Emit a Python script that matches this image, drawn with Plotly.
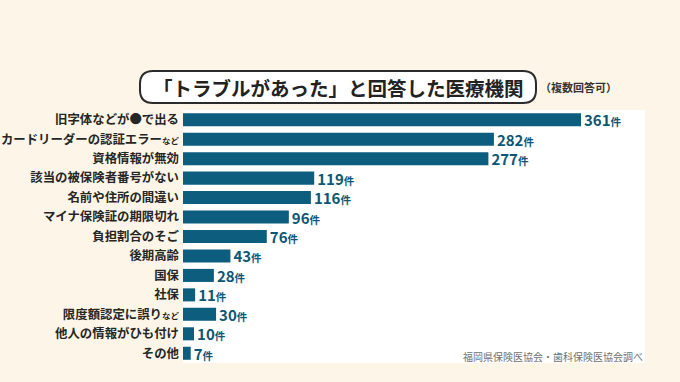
import plotly.graph_objects as go

categories = [
    "旧字体などが●で出る",
    "カードリーダーの認証エラー<span style='font-size:8.5px'>など</span>",
    "資格情報が無効",
    "該当の被保険者番号がない",
    "名前や住所の間違い",
    "マイナ保険証の期限切れ",
    "負担割合のそご",
    "後期高齢",
    "国保",
    "社保",
    "限度額認定に誤り<span style='font-size:8.5px'>など</span>",
    "他人の情報がひも付け",
    "その他",
]
values = [361, 282, 277, 119, 116, 96, 76, 43, 28, 11, 30, 10, 7]
value_labels = [f"<b>{v}<span style='font-size:10.5px'>件</span></b>" for v in values]

title_text = "「トラブルがあった」と回答した医療機関"
subtitle_text = "（複数回答可）"
source_text = "福岡県保険医協会・歯科保険医協会調べ"

W, H = 680, 382
L, R, T, B = 183, 35, 110, 19
PW, PH = W - L - R, H - T - B

def px(x):
    return (x - L) / PW

def py(y):
    return (H - B - y) / PH

BAR = "#0C5D7E"
TXT = "#0D5675"
FONT = "Noto Sans CJK JP"

fig = go.Figure(go.Bar(
    x=values, y=categories, orientation="h",
    marker=dict(color=BAR, line=dict(width=0)),
    text=value_labels, textposition="outside", constraintext="none",
    textfont=dict(family=FONT, size=15, color=TXT),
    cliponaxis=False, width=0.67,
))

# rounded title box
x0, x1, y0, y1, r = 140, 536, 71, 103, 13
path = (
    f"M {px(x0 + r)},{py(y0)} L {px(x1 - r)},{py(y0)} "
    f"Q {px(x1)},{py(y0)} {px(x1)},{py(y0 + r)} "
    f"L {px(x1)},{py(y1 - r)} "
    f"Q {px(x1)},{py(y1)} {px(x1 - r)},{py(y1)} "
    f"L {px(x0 + r)},{py(y1)} "
    f"Q {px(x0)},{py(y1)} {px(x0)},{py(y1 - r)} "
    f"L {px(x0)},{py(y0 + r)} "
    f"Q {px(x0)},{py(y0)} {px(x0 + r)},{py(y0)} Z"
)
fig.add_shape(type="path", path=path, xref="paper", yref="paper",
              line=dict(color="#2b2b2b", width=2), fillcolor="#FFFFFF", layer="above")

fig.add_annotation(text=f"<b>{title_text}</b>", x=px((x0 + x1) / 2), y=py(87),
                   xref="paper", yref="paper", showarrow=False,
                   font=dict(family=FONT, size=19.5, color="#222222"),
                   xanchor="center", yanchor="middle")
fig.add_annotation(text=f"<b>{subtitle_text}</b>", x=px(538), y=py(87),
                   xref="paper", yref="paper", showarrow=False,
                   font=dict(family=FONT, size=11, color="#333333"),
                   xanchor="left", yanchor="middle")
fig.add_annotation(text=source_text, x=px(645), y=py(356),
                   xref="paper", yref="paper", showarrow=False,
                   font=dict(family=FONT, size=10, color="#707070"),
                   xanchor="right", yanchor="middle")

fig.update_layout(
    width=W, height=H, autosize=False,
    margin=dict(l=L, r=R, t=T, b=B, pad=0, autoexpand=False),
    paper_bgcolor="#FDF6E8", plot_bgcolor="#FFFFFF",
    showlegend=False, bargap=0.33,
    font=dict(family=FONT),
)
fig.update_xaxes(range=[0, PW / 1.1025], visible=False, fixedrange=True, automargin=False)
fig.update_yaxes(autorange="reversed", showgrid=False, zeroline=False, showline=False,
                 ticks="", ticklabelstandoff=3, automargin=False, fixedrange=True,
                 tickvals=list(range(len(categories))), ticktext=[f"<b>{c}</b>" for c in categories],
                 tickfont=dict(family=FONT, size=12.4, color="#262626"))

fig.write_html("out.html", config={"displayModeBar": False},
               post_script="document.body.style.margin='0px';")
